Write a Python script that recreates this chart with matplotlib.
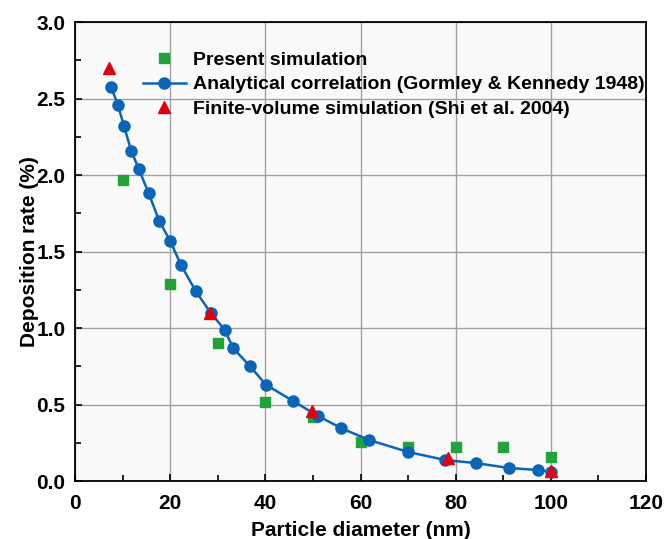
import matplotlib
matplotlib.use("Agg")
import matplotlib.pyplot as plt
from matplotlib.ticker import MultipleLocator, FormatStrFormatter

# Present simulation
present_d = [10, 20, 30, 40, 50, 60, 70, 80, 90, 100]
present_rate = [1.97, 1.29, 0.90, 0.516, 0.42, 0.255, 0.222, 0.222, 0.222, 0.157]

# Analytical correlation (Gormley & Kennedy 1948)
analytic_d = [7.6, 9.0, 10.3, 11.8, 13.4, 15.5, 17.7, 20.0, 22.3, 25.4, 28.5, 31.5,
              33.2, 36.8, 40.1, 45.8, 51.1, 55.9, 61.8, 70.0, 77.8, 84.3, 91.2, 97.3, 100.0]
analytic_rate = [2.575, 2.46, 2.32, 2.16, 2.04, 1.88, 1.70, 1.57, 1.41, 1.24, 1.10, 0.987,
                 0.87, 0.75, 0.63, 0.523, 0.425, 0.346, 0.268, 0.19, 0.137, 0.117, 0.085, 0.072, 0.06]

# Finite-volume simulation (Shi et al. 2004)
fv_d = [7.1, 28.4, 49.8, 78.4, 100]
fv_rate = [2.70, 1.10, 0.457, 0.15, 0.065]

plt.rcParams["font.family"] = ["Liberation Sans", "DejaVu Sans"]
plt.rcParams["font.weight"] = "bold"

fig = plt.figure(figsize=(6.66, 5.39), dpi=100)
ax = fig.add_axes([0.1126, 0.1076, 0.8574, 0.8514])
ax.set_facecolor("#fafafa")

ax.plot(present_d, present_rate, "s", color="#22a33a", markersize=6.5,
        linestyle="none", label="Present simulation", zorder=3)
ax.plot(analytic_d, analytic_rate, "-o", color="#0a64b8", markersize=8, lw=1.8,
        label="Analytical correlation (Gormley & Kennedy 1948)", zorder=4)
ax.plot(fv_d, fv_rate, "^", color="#e00010", markersize=8,
        linestyle="none", label="Finite-volume simulation (Shi et al. 2004)", zorder=5)

ax.set_xlim(0, 120)
ax.set_ylim(0, 3.0)
ax.xaxis.set_major_locator(MultipleLocator(20))
ax.xaxis.set_minor_locator(MultipleLocator(10))
ax.yaxis.set_major_locator(MultipleLocator(0.5))
ax.yaxis.set_minor_locator(MultipleLocator(0.25))
ax.yaxis.set_major_formatter(FormatStrFormatter("%.1f"))
ax.tick_params(which="both", direction="in", labelsize=15, width=1.2, pad=7)
ax.tick_params(axis="x", which="both", pad=9)
ax.tick_params(which="major", length=5)
ax.tick_params(which="minor", length=4)
ax.grid(True, which="major", color="#a0a0a0", lw=1.0)
for s in ax.spines.values():
    s.set_linewidth(1.3)

ax.set_xlabel("Particle diameter (nm)", fontsize=15, fontweight="bold", labelpad=6)
ax.set_ylabel("Deposition rate (%)", fontsize=15, fontweight="bold", labelpad=-2)

ax.legend(loc="upper left", bbox_to_anchor=(0.105, 0.953), frameon=False,
          fontsize=14, handlelength=2.2, handletextpad=0.4, labelspacing=0.35,
          borderaxespad=0)

fig.savefig("out.png", dpi=100)
